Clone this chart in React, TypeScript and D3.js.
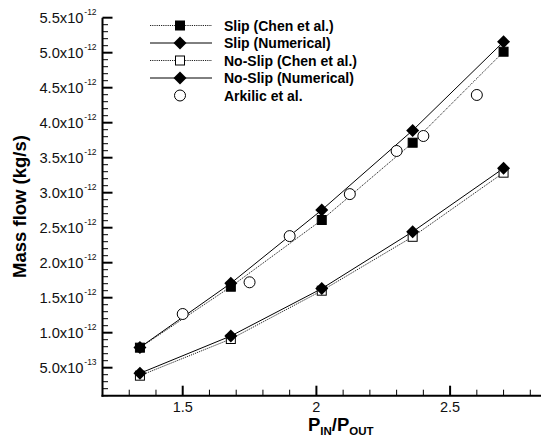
import React from "react";
import * as d3 from "d3";

const pressureRatio = [1.34, 1.68, 2.02, 2.36, 2.70];
const slipChen = [0.786e-12, 1.657e-12, 2.61e-12, 3.714e-12, 5.014e-12];
const slipNumerical = [0.79e-12, 1.706e-12, 2.753e-12, 3.89e-12, 5.157e-12];
const noSlipChen = [0.386e-12, 0.91e-12, 1.6e-12, 2.37e-12, 3.286e-12];
const noSlipNumerical = [0.42e-12, 0.953e-12, 1.63e-12, 2.443e-12, 3.349e-12];
const arkilicX = [1.5, 1.75, 1.9, 2.125, 2.3, 2.4, 2.6];
const arkilicY = [1.267e-12, 1.72e-12, 2.38e-12, 2.98e-12, 3.596e-12, 3.81e-12, 4.396e-12];

const xMajorTicks = [1.5, 2, 2.5];
const xTickLabels = ["1.5", "2", "2.5"];
const yMajorTicks = [0.5e-12, 1.0e-12, 1.5e-12, 2.0e-12, 2.5e-12, 3.0e-12, 3.5e-12, 4.0e-12, 4.5e-12, 5.0e-12, 5.5e-12];
const yTickMantissa = ["5.0", "1.0", "1.5", "2.0", "2.5", "3.0", "3.5", "4.0", "4.5", "5.0", "5.5"];
const yTickExponent = ["-13", "-12", "-12", "-12", "-12", "-12", "-12", "-12", "-12", "-12", "-12"];
const legendLabels = ["Slip (Chen et al.)", "Slip (Numerical)", "No-Slip (Chen et al.)", "No-Slip (Numerical)", "Arkilic et al."];

const FONT = "'Liberation Sans', Arial, Helvetica, sans-serif";

export default function App() {
  const W = 541, H = 441;
  const x = d3.scaleLinear().domain([1.2, 2.84]).range([102.5, 541]);
  const y = d3.scaleLinear().domain([0.1e-12, 5.5e-12]).range([395.7, 17.7]);

  const xMinor = d3.range(13, 29).map((v) => v / 10).filter((v) => !xMajorTicks.some((m) => Math.abs(m - v) < 1e-9));
  const yMinor = d3.range(1, 56).map((v) => v / 10 * 1e-12).filter((v) => !yMajorTicks.some((m) => Math.abs(m - v) < 1e-20));

  const line = d3.line<[number, number]>().x((d) => x(d[0])).y((d) => y(d[1]));
  const pts = (ys: number[]) => pressureRatio.map((p, i) => [p, ys[i]] as [number, number]);

  const dotted = { stroke: "#222", strokeWidth: 1, strokeDasharray: "1.2,1", fill: "none" };
  const solid = { stroke: "#000", strokeWidth: 1, fill: "none" };

  const sq = (cx: number, cy: number, filled: boolean, k: string) => (
    <rect key={k} x={cx - 4.5} y={cy - 4.5} width={9} height={9} fill={filled ? "#000" : "#fff"} stroke="#000" strokeWidth={1} />
  );
  const dia = (cx: number, cy: number, k: string) => (
    <path key={k} d={`M${cx},${cy - 6.5}L${cx + 6.5},${cy}L${cx},${cy + 6.5}L${cx - 6.5},${cy}Z`} fill="#000" />
  );
  const circ = (cx: number, cy: number, k: string) => (
    <circle key={k} cx={cx} cy={cy} r={5.5} fill="#fff" stroke="#000" strokeWidth={1} />
  );

  const axisX0 = 102.5, axisY0 = 395.7;
  const legendRows = [25.5, 43, 60.5, 78, 95.5];

  return (
    <svg width={W} height={H} style={{ position: "absolute", left: 0, top: 0, background: "#fff" }} fontFamily={FONT}>
      <rect x={0} y={0} width={W} height={H} fill="#fff" />
      {/* lines */}
      <path d={line(pts(noSlipChen)) || ""} {...dotted} />
      <path d={line(pts(noSlipNumerical)) || ""} {...solid} />
      <path d={line(pts(slipChen)) || ""} {...dotted} />
      <path d={line(pts(slipNumerical)) || ""} {...solid} />
      {/* markers */}
      {pressureRatio.map((p, i) => sq(x(p), y(noSlipChen[i]), false, "nsc" + i))}
      {pressureRatio.map((p, i) => dia(x(p), y(noSlipNumerical[i]), "nsn" + i))}
      {pressureRatio.map((p, i) => sq(x(p), y(slipChen[i]), true, "sc" + i))}
      {pressureRatio.map((p, i) => dia(x(p), y(slipNumerical[i]), "sn" + i))}
      {arkilicX.map((p, i) => circ(x(p), y(arkilicY[i]), "ak" + i))}

      {/* axes */}
      <line x1={axisX0} y1={y(5.5e-12) } x2={axisX0} y2={axisY0 + 1} stroke="#000" strokeWidth={2} />
      <line x1={axisX0 - 1} y1={axisY0} x2={W} y2={axisY0} stroke="#000" strokeWidth={2} />
      {yMajorTicks.map((v, i) => (
        <g key={"ym" + i}>
          <line x1={axisX0} x2={axisX0 + 10} y1={y(v)} y2={y(v)} stroke="#000" strokeWidth={2} />
          <text x={83.5} y={y(v) + 5.3} textAnchor="end" fontSize={14.7} fill="#111">{yTickMantissa[i]}x10</text>
          <text x={84.3} y={y(v) - 2.5} textAnchor="start" fontSize={8.5} fill="#111">{yTickExponent[i]}</text>
        </g>
      ))}
      {yMinor.map((v, i) => (
        <line key={"yn" + i} x1={axisX0} x2={axisX0 + 5.5} y1={y(v)} y2={y(v)} stroke="#000" strokeWidth={1} />
      ))}
      {xMajorTicks.map((v, i) => (
        <g key={"xm" + i}>
          <line x1={x(v)} x2={x(v)} y1={axisY0} y2={axisY0 - 10} stroke="#000" strokeWidth={2} />
          <text x={x(v)} y={412} textAnchor="middle" fontSize={14.5} fill="#111">{xTickLabels[i]}</text>
        </g>
      ))}
      {xMinor.map((v, i) => (
        <line key={"xn" + i} x1={x(v)} x2={x(v)} y1={axisY0} y2={axisY0 - 6} stroke="#000" strokeWidth={1} />
      ))}

      {/* axis titles */}
      <text x={308} y={431} fontSize={18.5} fontWeight="bold" fill="#000">
        P<tspan fontSize={11.5} dy={4}>IN</tspan><tspan fontSize={18.5} dy={-4}>/P</tspan><tspan fontSize={11.5} dy={4}>OUT</tspan>
      </text>
      <text transform={`translate(25.5,206.5) rotate(-90)`} textAnchor="middle" fontSize={18.5} fontWeight="bold" fill="#000">Mass flow (kg/s)</text>

      {/* legend */}
      {legendLabels.map((lab, i) => {
        const ly = legendRows[i];
        return (
          <g key={"lg" + i}>
            {i < 4 && <line x1={150} x2={212} y1={ly} y2={ly} {...(i % 2 === 0 ? dotted : solid)} />}
            {i === 0 && sq(180, ly, true, "l0")}
            {i === 1 && dia(180, ly, "l1")}
            {i === 2 && sq(180, ly, false, "l2")}
            {i === 3 && dia(180, ly, "l3")}
            {i === 4 && circ(180, ly, "l4")}
            <text x={224} y={ly + 5} fontSize={14} fontWeight="bold" fill="#000">{lab}</text>
          </g>
        );
      })}
    </svg>
  );
}
